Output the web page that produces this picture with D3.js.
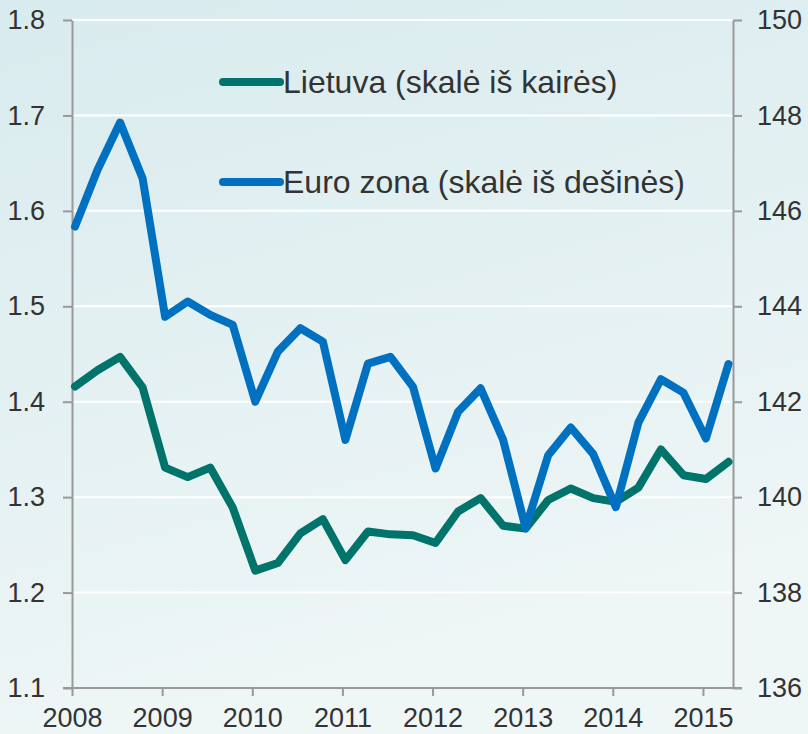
<!DOCTYPE html>
<html>
<head>
<meta charset="utf-8">
<script src="https://cdn.jsdelivr.net/npm/d3@7"></script>
<style>
  body { margin: 0; padding: 0; overflow: hidden; }
  svg { display: block; font-family: "Liberation Sans", Arial, sans-serif; }
</style>
</head>
<body>
<script>
var w = 808;
var h = 734;

// quarterly data, 2008 Q1 .. 2015 Q2
var quarters = d3.range(30).map(function (i) { return 2008 + i * 0.25 + 1 / 30; });
var lietuva = [1.416, 1.433, 1.447, 1.415, 1.331, 1.321, 1.331, 1.289, 1.223, 1.231,
               1.262, 1.277, 1.234, 1.264, 1.261, 1.260, 1.252, 1.285, 1.299, 1.270,
               1.267, 1.297, 1.309, 1.299, 1.295, 1.310, 1.350, 1.323, 1.319, 1.337];
var euro = [145.67, 146.86, 147.85, 146.68, 143.78, 144.10, 143.82, 143.61, 142.00, 143.05,
            143.54, 143.26, 141.20, 142.80, 142.94, 142.31, 140.60, 141.79, 142.28, 141.20,
            139.35, 140.88, 141.46, 140.90, 139.79, 141.56, 142.47, 142.19, 141.23, 142.79];
var years = [2008, 2009, 2010, 2011, 2012, 2013, 2014, 2015];
var leftTicks = [1.1, 1.2, 1.3, 1.4, 1.5, 1.6, 1.7, 1.8];
var rightTicks = [136, 138, 140, 142, 144, 146, 148, 150];
var legendLabels = ["Lietuva (skalė iš kairės)", "Euro zona (skalė iš dešinės)"];
var colors = ["#00736b", "#0070c0"];

var m = { left: 72, right: 733, top: 20, bottom: 688 };

var x = d3.scaleLinear().domain([2008, 2015 + 1 / 3]).range([m.left, m.right]);
var yL = d3.scaleLinear().domain([1.1, 1.8]).range([m.bottom, m.top]);
var yR = d3.scaleLinear().domain([136, 150]).range([m.bottom, m.top]);

var svg = d3.select("body").append("svg")
  .attr("width", w)
  .attr("height", h);

var grad = svg.append("defs").append("linearGradient")
  .attr("id", "bg")
  .attr("x1", "0%").attr("y1", "0%")
  .attr("x2", "30%").attr("y2", "100%");
grad.append("stop").attr("offset", "0%").attr("stop-color", "#d8ebee");
grad.append("stop").attr("offset", "100%").attr("stop-color", "#eff6f6");

svg.append("rect")
  .attr("width", w)
  .attr("height", h)
  .attr("fill", "url(#bg)");

// white gridlines
svg.selectAll(".grid")
  .data(leftTicks.slice(1))
  .enter()
    .append("line")
    .attr("x1", m.left)
    .attr("x2", m.right)
    .attr("y1", function (d) { return yL(d); })
    .attr("y2", function (d) { return yL(d); })
    .attr("stroke", "#ffffff")
    .attr("stroke-width", 2);

var axisColor = "#999999";

var styleAxis = function (g) {
  g.select(".domain").attr("stroke", axisColor).attr("stroke-width", 2);
  g.selectAll(".tick line").attr("stroke", axisColor).attr("stroke-width", 2);
  g.selectAll(".tick text")
    .attr("fill", "#333333")
    .style("font-size", "27px")
    .style("font-family", "'Liberation Sans', Arial, sans-serif");
};

svg.append("g")
  .attr("transform", "translate(" + m.left + ",0)")
  .call(d3.axisLeft(yL).tickValues(leftTicks).tickFormat(d3.format(".1f")).tickSize(9).tickSizeOuter(0).tickPadding(18))
  .call(styleAxis);

svg.append("g")
  .attr("transform", "translate(" + m.right + ",0)")
  .call(d3.axisRight(yR).tickValues(rightTicks).tickFormat(d3.format("d")).tickSize(9).tickSizeOuter(0).tickPadding(15))
  .call(styleAxis);

var gx = svg.append("g")
  .attr("transform", "translate(0," + m.bottom + ")")
  .call(d3.axisBottom(x).tickValues(years).tickFormat(d3.format("d")).tickSize(8).tickSizeOuter(0).tickPadding(12))
  .call(styleAxis);
gx.select(".domain").attr("d", "M" + (m.left - 9) + ",0H" + (m.right + 9));

// lines
var lineL = d3.line()
  .x(function (d, i) { return x(quarters[i]); })
  .y(function (d) { return yL(d); });
var lineR = d3.line()
  .x(function (d, i) { return x(quarters[i]); })
  .y(function (d) { return yR(d); });

svg.append("path")
  .datum(lietuva)
  .attr("d", lineL)
  .attr("fill", "none")
  .attr("stroke", colors[0])
  .attr("stroke-width", 8)
  .attr("stroke-linejoin", "round")
  .attr("stroke-linecap", "round");

svg.append("path")
  .datum(euro)
  .attr("d", lineR)
  .attr("fill", "none")
  .attr("stroke", colors[1])
  .attr("stroke-width", 8)
  .attr("stroke-linejoin", "round")
  .attr("stroke-linecap", "round");

// legend
var legend = svg.selectAll(".legend")
  .data(legendLabels)
  .enter()
    .append("g")
    .attr("transform", function (d, i) { return "translate(223," + (82 + i * 100) + ")"; });

legend.append("line")
  .attr("x1", 0)
  .attr("x2", 57)
  .attr("stroke", function (d, i) { return colors[i]; })
  .attr("stroke-width", 8)
  .attr("stroke-linecap", "round");

legend.append("text")
  .attr("x", 60)
  .attr("y", 11)
  .attr("fill", "#333333")
  .style("font-size", "32px")
  .text(function (d) { return d; });
</script>
</body>
</html>
